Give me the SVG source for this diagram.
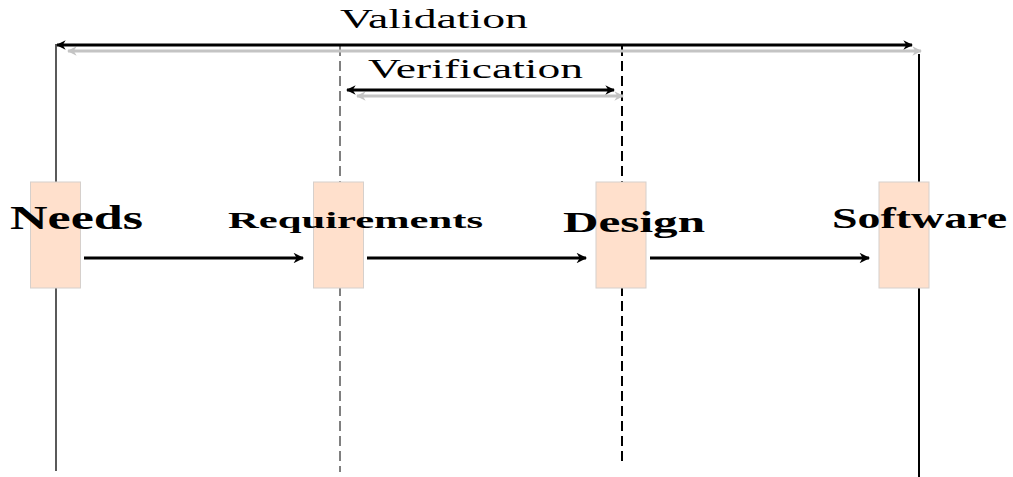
<svg xmlns="http://www.w3.org/2000/svg" width="1013" height="477" viewBox="0 0 1013 477">
<style>
.box{fill:#ffe0cc;stroke:#d6d0cc;stroke-width:1}
.lbl{font-family:"Liberation Serif",serif;font-weight:bold;fill:#000}
.ttl{font-family:"Liberation Serif",serif;fill:#000}
.blk{stroke:#000;stroke-width:3;fill:none}
.gry{stroke:#c4c4c4;stroke-width:3;fill:none}
.arr{stroke:#000;stroke-width:3;fill:none}
</style>
<defs>
<marker id="hb" viewBox="0 0 10 10" refX="9" refY="5" markerWidth="6" markerHeight="3.2" orient="auto-start-reverse" markerUnits="strokeWidth"><path d="M0,0 L10,5 L0,10 L3,5 z" fill="#000"/></marker>
<marker id="hg" viewBox="0 0 10 10" refX="9" refY="5" markerWidth="6" markerHeight="3.2" orient="auto-start-reverse" markerUnits="strokeWidth"><path d="M0,0 L10,5 L0,10 L3,5 z" fill="#c4c4c4"/></marker>
<marker id="ha" viewBox="0 0 10 10" refX="9" refY="5" markerWidth="6.5" markerHeight="3.5" orient="auto" markerUnits="strokeWidth"><path d="M0,0 L10,5 L0,10 L3,5 z" fill="#000"/></marker>
</defs>
<g id="lifelines">
<line x1="56" y1="44" x2="56" y2="471" stroke="#000" stroke-width="1.3"/>
<line x1="340" y1="46" x2="340" y2="472" stroke="#000" stroke-width="1" stroke-dasharray="10,5"/>
<line x1="622" y1="46" x2="622" y2="466" stroke="#000" stroke-width="2" stroke-dasharray="10,5"/>
<line x1="919" y1="54" x2="919" y2="477" stroke="#000" stroke-width="2"/>
</g>
<g id="connectors">
<line class="gry" x1="68" y1="51" x2="921" y2="51" marker-start="url(#hg)" marker-end="url(#hg)"/>
<line class="blk" x1="57" y1="45" x2="912" y2="45" marker-start="url(#hb)" marker-end="url(#hb)"/>
<line class="gry" x1="357" y1="96" x2="623" y2="96" marker-start="url(#hg)" marker-end="url(#hg)"/>
<line class="blk" x1="347" y1="90" x2="614" y2="90" marker-start="url(#hb)" marker-end="url(#hb)"/>
<line class="arr" x1="84" y1="258" x2="303" y2="258" marker-end="url(#ha)"/>
<line class="arr" x1="367" y1="258" x2="586" y2="258" marker-end="url(#ha)"/>
<line class="arr" x1="650" y1="258" x2="869" y2="258" marker-end="url(#ha)"/>
</g>
<text class="ttl" x="340" y="28" font-size="27" textLength="188" lengthAdjust="spacingAndGlyphs">Validation</text>
<text class="ttl" x="368" y="78" font-size="27" textLength="215" lengthAdjust="spacingAndGlyphs">Verification</text>
<g id="needs">
<rect class="box" x="30.5" y="182" width="50" height="106"/>
<text class="lbl" x="10" y="229" font-size="33" textLength="133" lengthAdjust="spacingAndGlyphs">Needs</text>
</g>
<g id="requirements">
<rect class="box" x="313.5" y="182" width="50" height="106"/>
<text class="lbl" x="228" y="228" font-size="24" textLength="255" lengthAdjust="spacingAndGlyphs">Requirements</text>
</g>
<g id="design">
<rect class="box" x="596" y="182" width="50" height="106"/>
<text class="lbl" x="563" y="232" font-size="29" textLength="142" lengthAdjust="spacingAndGlyphs">Design</text>
</g>
<g id="software">
<rect class="box" x="879" y="182" width="50" height="106"/>
<text class="lbl" x="832" y="228" font-size="29" textLength="175" lengthAdjust="spacingAndGlyphs">Software</text>
</g>
</svg>
